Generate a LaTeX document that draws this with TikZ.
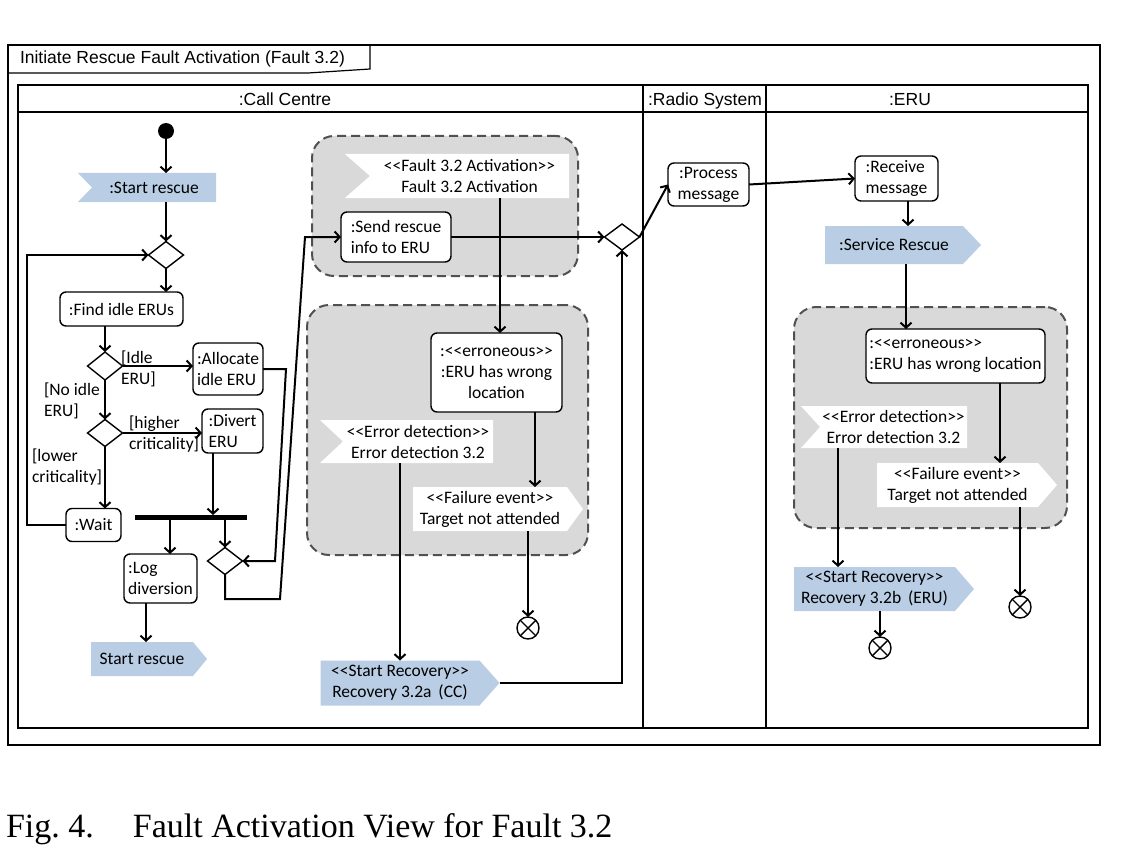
\documentclass[tikz,border=0pt]{standalone}
\usepackage{fontspec}
\setmainfont{Liberation Serif}
\newfontfamily\calfont[Ligatures=TeXOff]{Carlito}
\newfontfamily\arifont{Liberation Sans}
\usetikzlibrary{shapes.geometric,arrows.meta,calc}
\pgfdeclarelayer{bgl}\pgfdeclarelayer{midl}\pgfsetlayers{bgl,midl,main}
\definecolor{sblue}{RGB}{185,205,229}
\definecolor{sgrey}{RGB}{217,217,217}
\definecolor{dgrey}{RGB}{80,80,80}
\newcommand\notchshape[3]{%
\begin{pgfonlayer}{midl}
\fill[#3] ([xshift=-#2]#1.north west) -- (#1.north east) -- (#1.south east) -- ([xshift=-#2]#1.south west) -- (#1.west) -- cycle;
\end{pgfonlayer}}
\newcommand\pointshape[3]{%
\begin{pgfonlayer}{midl}
\fill[#3] (#1.north west) -- (#1.north east) -- ([xshift=#2]#1.east) -- (#1.south east) -- (#1.south west) -- cycle;
\end{pgfonlayer}}
\tikzset{
 every node/.style={inner sep=0pt, outer sep=0pt},
 txt/.style={font=\calfont\fontsize{17.5}{21}\selectfont},
 act/.style={txt, draw, line width=1.4pt, rounded corners=6pt, fill=white, align=center},
 actl/.style={act, align=left},
 dec/.style={diamond, draw, line width=1.4pt, fill=white, minimum width=35pt, minimum height=27pt},
 sig/.style={txt, align=center},
 flow/.style={line width=2pt},
 arr/.style={flow, -{Straight Barb[length=5pt,width=11pt]}},
 region/.style={draw=dgrey, fill=sgrey, dash pattern=on 9pt off 5pt, line width=2pt, rounded corners=22pt},
 final/.style={circle, draw, line width=1.4pt, minimum size=22pt, path picture={\draw[line width=1.4pt] (path picture bounding box.north west) -- (path picture bounding box.south east) (path picture bounding box.north east) -- (path picture bounding box.south west);}},
 lane/.style={line width=1.5pt},
 hdr/.style={font=\arifont\fontsize{17.5}{21}\selectfont},
}
\begin{document}
\begin{tikzpicture}[x=1pt,y=-1pt]
\useasboundingbox (0,0) rectangle (1126,845);
% frames
\draw[line width=1.2pt] (8,45) rectangle (1100,745);
\draw[line width=1.2pt] (8,73) -- (308,73) -- (370,69) -- (370,45);
\node[hdr, anchor=west] (title) at (20,59) {Initiate Rescue Fault Activation (Fault 3.2)};
\draw[lane] (18,85) rectangle (1088,728);
\draw[lane] (18,112) -- (1088,112);
\draw[lane] (643,85) -- (643,728);
\draw[line width=2.5pt] (766,85) -- (766,728);
\node[hdr] (h1) at (285,99) {:Call Centre};
\node[hdr] (h2) at (705,101) {:Radio System};
\node[hdr] (h3) at (910,100) {:ERU};
% regions
\begin{pgfonlayer}{bgl}
\node[region, minimum width=266, minimum height=140] (g1) at (445,206) {};
\node[region, minimum width=281, minimum height=250] (g2) at (447.5,430) {};
\node[region, minimum width=273, minimum height=221] (g3) at (930.5,417.5) {};
\end{pgfonlayer}
% call centre
\node[circle, fill=black, minimum size=16] (init) at (166,131) {};
\node[sig, minimum width=124, minimum height=29] (sr1) at (154,187.5) {:Start rescue};
\notchshape{sr1}{14}{sblue}
\node[dec] (d1) at (166,255) {};
\node[act, minimum width=123, minimum height=34] (find) at (121.5,309) {:Find idle ERUs};
\node[dec, minimum height=28] (d2) at (105,366) {};
\node[actl, minimum width=70, minimum height=52] (alloc) at (228,369) {:Allocate\\idle ERU};
\node[dec] (d4) at (105,433) {};
\node[actl, minimum width=61, minimum height=44] (divert) at (232.5,431) {:Divert\\ERU};
\node[act, minimum width=55, minimum height=33] (wait) at (93.5,525) {:Wait};
\node[fill=black, minimum width=112, minimum height=5] (fork) at (191,517.5) {};
\node[actl, minimum width=73, minimum height=49] (log) at (160.5,578.5) {:Log\\diversion};
\node[dec] (d3) at (225,561) {};
\node[sig, minimum width=102, minimum height=34] (sr2) at (142,659) {Start rescue};
\pointshape{sr2}{14}{sblue}
\node[txt, anchor=west, align=left] (l1) at (121,369) {[Idle\\ERU]};
\node[txt, anchor=west, align=left] (l2) at (44,401) {[No idle\\ERU]};
\node[txt, anchor=west, align=left] (l3) at (129,434) {[higher\\criticality]};
\node[txt, anchor=west, align=left] (l4) at (32,467) {[lower\\criticality]};
% middle
\node[sig, minimum width=199, minimum height=44] (fa) at (469.5,176) {<<Fault 3.2 Activation>>\\Fault 3.2 Activation};
\notchshape{fa}{25}{white}
\node[actl, minimum width=110, minimum height=50] (send) at (396,237) {:Send rescue\\info to ERU};
\node[dec, minimum height=26] (d5) at (622,237) {};
\node[act, minimum width=131, minimum height=79] (err1) at (496.5,372.5) {:<<erroneous>>\\:ERU has wrong\\location};
\node[sig, minimum width=150, minimum height=43] (ed1) at (418,441.5) {<<Error detection>>\\Error detection 3.2};
\notchshape{ed1}{23}{white}
\node[sig, minimum width=154, minimum height=44] (fe1) at (490,509) {<<Failure event>>\\Target not attended};
\pointshape{fe1}{16}{white}
\node[final] (fin1) at (528,628) {};
\node[sig, minimum width=159, minimum height=45] (rec1) at (400,683) {<<Start Recovery>>\\Recovery 3.2a\ \,(CC)};
\pointshape{rec1}{20}{sblue}
% radio
\node[act, minimum width=81, minimum height=43] (proc) at (708.5,184.5) {:Process\\message};
% ERU
\node[actl, minimum width=83, minimum height=45] (recv) at (896.5,178.5) {:Receive\\message};
\node[sig, minimum width=138, minimum height=38] (svc) at (894,245) {:Service Rescue};
\pointshape{svc}{18}{sblue}
\node[actl, minimum width=179, minimum height=54] (err2) at (955.5,356) {:<<erroneous>>\\:ERU has wrong location};
\node[sig, minimum width=147, minimum height=42] (ed2) at (893.5,427) {<<Error detection>>\\Error detection 3.2};
\notchshape{ed2}{19}{white}
\node[sig, minimum width=161, minimum height=44] (fe2) at (957.5,485) {<<Failure event>>\\Target not attended};
\pointshape{fe2}{19}{white}
\node[final] (fin3) at (1020,607) {};
\node[sig, minimum width=161, minimum height=44] (rec2) at (874.5,589) {<<Start Recovery>>\\Recovery 3.2b\ \,(ERU)};
\pointshape{rec2}{19}{sblue}
\node[final] (fin2) at (880,648) {};
% connectors left
\draw[arr] (init) -- (init |- sr1.north);
\draw[arr] (sr1.south -| d1) -- (d1.north);
\draw[arr] (d1.south) -- (d1.south |- find.north);
\draw[arr] (find.south -| d2) -- (d2.north);
\draw[arr] (d2.east) -- (d2.east -| alloc.west);
\draw[arr] (d2.south) -- (d4.north);
\draw[arr] (d4.east) -- (d4.east -| divert.west);
\draw[arr] (d4.south) -- (d4.south |- wait.north);
\coordinate (lpA) at (27,525);
\coordinate (lpB) at (27,255);
\draw[arr] (wait.west) -- (lpA) -- (lpB) -- (d1.west);
\draw[arr] ([xshift=-19.5]divert.south) -- ([xshift=-19.5]divert.south |- fork.north);
\draw[arr] ([xshift=9.5]log.north |- fork.south) -- ([xshift=9.5]log.north);
\draw[arr] (d3.north |- fork.south) -- (d3.north);
\coordinate (aA) at (286,369);
\coordinate (aB) at (275,561);
\draw[arr] (alloc.east) -- (aA) -- (aB) -- (d3.east);
\coordinate (bA) at (225,599);
\coordinate (bB) at (280,599);
\coordinate (bC) at (305,237);
\draw[arr] (d3.south) -- (bA) -- (bB) -- (bC) -- (send.west);
\draw[arr] ([xshift=-14.5]log.south) -- ([xshift=-14.5]log.south |- sr2.north);
% connectors middle
\draw[arr] (send.east) -- (d5.west);
\draw[arr] ([xshift=30.5]fa.south) -- ([xshift=30.5]fa.south |- err1.north);
\draw[arr] ([xshift=38.5]err1.south) -- ([xshift=38.5]err1.south |- fe1.north);
\draw[arr] (fe1.south -| fin1) -- (fin1.north);
\draw[arr] (ed1.south -| rec1) -- (rec1.north);
\coordinate (cA) at (622,683);
\draw[arr] ([xshift=20]rec1.east) -- (cA) -- (d5.south);
% connectors radio / ERU
\draw[arr] (d5.east) -- (proc.west);
\draw[arr] (proc.east) -- (recv.west);
\draw[arr] ([xshift=11.5]recv.south) -- ([xshift=11.5]recv.south |- svc.north);
\draw[arr] ([xshift=12]svc.south) -- ([xshift=12]svc.south |- err2.north);
\draw[arr] ([xshift=44.5]err2.south) -- ([xshift=44.5]err2.south |- fe2.north);
\draw[arr] (fe2.south -| fin3) -- (fin3.north);
\draw[arr] ([xshift=-55.5]ed2.south) -- ([xshift=-55.5]ed2.south |- rec2.north);
\draw[arr] (rec2.south -| fin2) -- (fin2.north);
% caption
\node[font=\fontsize{34}{40}\selectfont, anchor=base west] (cap) at (6,837) {Fig.~4.\hspace{39pt}Fault Activation View for Fault 3.2};
\end{tikzpicture}
\end{document}
